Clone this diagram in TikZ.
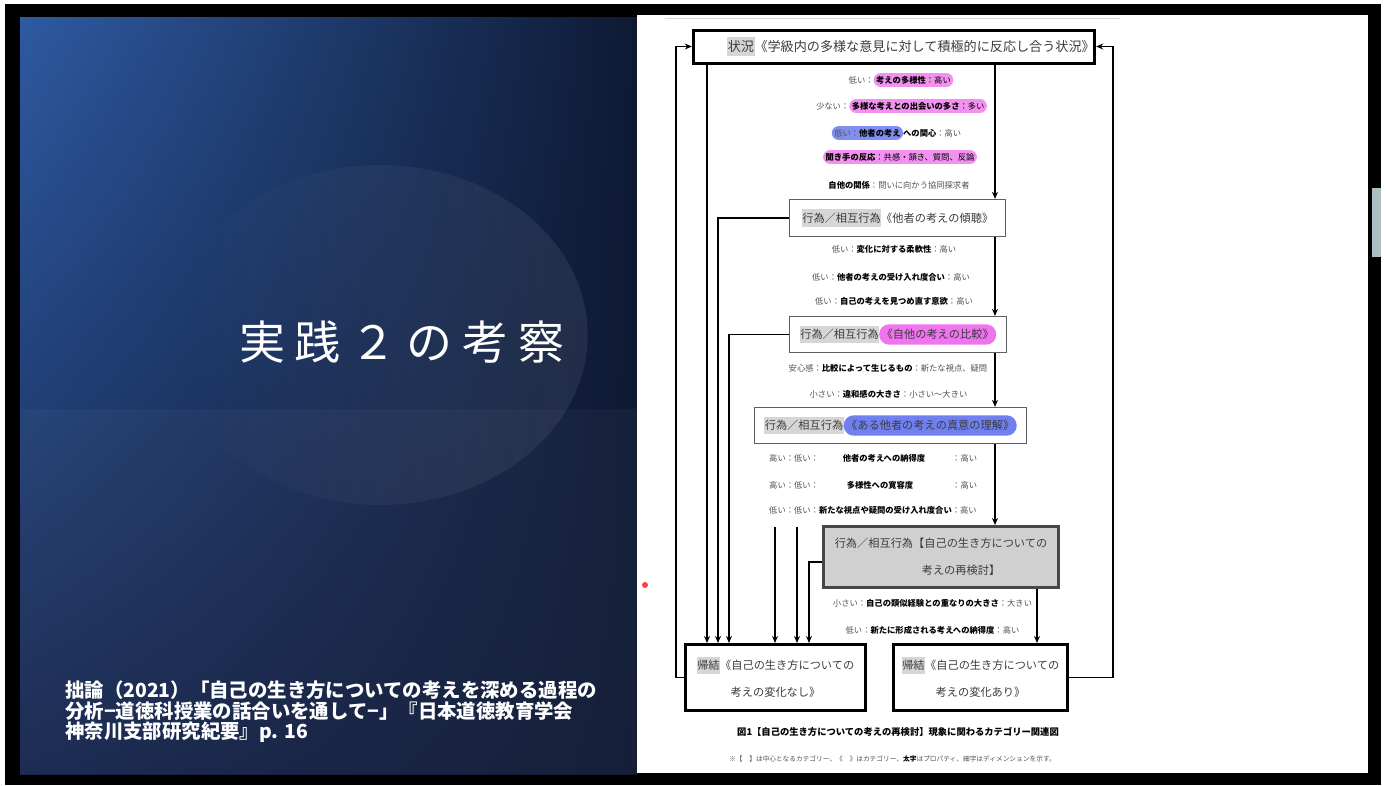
\documentclass[tikz,border=0pt]{standalone}
\usepackage{fontspec}
\setmainfont{Noto Sans CJK JP}
\usetikzlibrary{arrows.meta,shadings,fadings}
\definecolor{pinkhl}{RGB}{243,145,240}
\definecolor{bluehl}{RGB}{128,142,240}
\definecolor{maghl}{RGB}{240,115,240}
\definecolor{bluehltwo}{RGB}{112,128,240}
\definecolor{grayhl}{RGB}{214,214,214}
\definecolor{dimtext}{RGB}{80,80,80}
\definecolor{boxtext}{RGB}{60,60,60}
\definecolor{cboxfill}{RGB}{208,208,208}
\definecolor{slideTL}{RGB}{46,90,162}
\definecolor{slideTR}{RGB}{14,26,52}
\definecolor{slideBL}{RGB}{22,38,78}
\definecolor{slideBR}{RGB}{14,24,50}
\definecolor{sidebit}{RGB}{170,190,195}
\tikzset{plain/.style={draw=none,minimum width=0pt,minimum height=0pt,line width=0.4pt,outer sep=0pt,align=left}}
\newcommand\pill[4]{\tikz[baseline=(pillnd.base)]\node[plain,fill=#3,rounded corners=#2,inner xsep=2.5pt,inner ysep=#1](pillnd){#4};}
\newcommand\ghl[1]{\tikz[baseline=(ghlnd.base)]\node[plain,fill=grayhl,inner xsep=0.5pt,inner ysep=3.5pt](ghlnd){#1};}
\newcommand\pr[1]{{\bfseries\color{black}#1}}
\begin{document}
\begin{tikzpicture}[x=1pt,y=-1pt,
 arr/.style={line width=1.6pt,-{Stealth[length=7pt,width=6pt]}},
 thickbox/.style={draw=black,line width=3pt,fill=white,inner sep=0pt,text=boxtext,font=\fontsize{11.2}{27}\selectfont,align=center},
 thinbox/.style={draw=gray!75!black,line width=1.2pt,fill=white,inner sep=0pt,text=boxtext,font=\fontsize{11.2}{14}\selectfont},
 cbox/.style={draw=gray!55!black,line width=3pt,fill=cboxfill,inner sep=0pt,text=boxtext,font=\fontsize{11.2}{27}\selectfont,align=center},
 dim/.style={inner sep=0pt,text=dimtext,font=\fontsize{8.3}{10}\selectfont},
]
\useasboundingbox (0,0) rectangle (1386,785);
\fill[white] (0,0) rectangle (1386,785);
\fill[black] (5,4) rectangle (1381,785);
% ---------- left slide ----------
\shade[upper left=slideTL,upper right=slideTR,lower left=slideBL,lower right=slideBR] (20,17) rectangle (637,774);
\fill[white,opacity=0.08,path fading=west] (380,335) ellipse [x radius=208pt, y radius=170pt];
\fill[white,opacity=0.03] (20,409) rectangle (637,774);
\node[text=white,inner sep=0pt,font=\fontsize{46}{50}\selectfont] (title) at (402,342)
 {実\kern10pt 践\kern10pt ２\kern10pt の\kern10pt 考\kern10pt 察};
\node[text=white,inner sep=0pt,anchor=west,align=left,font=\fontsize{19.4}{20.5}\selectfont\bfseries] (cite) at (65,712)
 {拙論（2021）「自己の生き方についての考えを深める過程の\\分析−道徳科授業の話合いを通して−」『日本道徳教育学会\\神奈川支部研究紀要』p. 16};
% ---------- right panel ----------
\fill[white] (637,15) rectangle (1368,773);
\fill[sidebit] (1372,188) rectangle (1381,257);
\draw[gray!30,line width=0.8pt] (665,18) -- (1120,18);
\fill[red,opacity=0.75] (645,585) circle[radius=3pt];
% boxes
\node[thickbox,minimum width=395pt,minimum height=33pt,font=\fontsize{13.1}{16}\selectfont] (sit) at (894,46.5)
 {\hspace*{34pt}\ghl{状況}《学級内の多様な意見に対して積極的に反応し合う状況》};
\node[thinbox,minimum width=216pt,minimum height=37pt] (box2) at (897.5,218)
 {\ghl{行為／相互行為}《他者の考えの傾聴》};
\node[thinbox,minimum width=217pt,minimum height=36pt] (box3) at (898,334.5)
 {\ghl{行為／相互行為}\pill{5pt}{10pt}{maghl}{《自他の考えの比較》}};
\node[thinbox,minimum width=272pt,minimum height=36pt] (box4) at (890.5,425.5)
 {\ghl{行為／相互行為}\pill{5pt}{10pt}{bluehltwo}{《ある他者の考えの真意の理解》}};
\node[cbox,minimum width=235pt,minimum height=61pt] (box5) at (941,557)
 {行為／相互行為【自己の生き方についての\\\hspace*{40pt}考えの再検討】};
\node[thickbox,minimum width=180pt,minimum height=66pt] (out1) at (775.5,677.5)
 {\ghl{帰結}《自己の生き方についての\\考えの変化なし》};
\node[thickbox,minimum width=174pt,minimum height=66pt] (out2) at (980.5,677.5)
 {\ghl{帰結}《自己の生き方についての\\考えの変化あり》};
% texts under top box
\node[dim] (t1) at (901,80) {低い：\pill{3pt}{7pt}{pinkhl}{\pr{考えの多様性}：高い}};
\node[dim] (t2) at (901.5,106) {少ない：\pill{3pt}{7pt}{pinkhl}{\pr{多様な考えとの出会いの多さ}：多い}};
\node[dim] (t3) at (896.5,133) {\pill{3pt}{7pt}{bluehl}{低い：\pr{他者の考え}}\pr{への関心}：高い};
\node[dim] (t4) at (900,157) {\pill{3pt}{7pt}{pinkhl}{\pr{聞き手の反応}：共感・頷き、質問、反論}};
\node[dim] (t5) at (899,185) {\pr{自他の関係}：問いに向かう協同探求者};
% under box2
\node[dim] (u1) at (894,249) {低い：\pr{変化に対する柔軟性}：高い};
\node[dim] (u2) at (891,277) {低い：\pr{他者の考えの受け入れ度合い}：高い};
\node[dim] (u3) at (894,301) {低い：\pr{自己の考えを見つめ直す意欲}：高い};
% under box3
\node[dim] (v1) at (888,368) {安心感：\pr{比較によって生じるもの}：新たな視点、疑問};
\node[dim] (v2) at (888.5,394) {小さい：\pr{違和感の大きさ}：小さい～大きい};
% under box4
\node[dim,anchor=west] (w1a) at (769,458) {高い：低い：};
\node[dim] (w1b) at (884,458) {\pr{他者の考えへの納得度}};
\node[dim,anchor=west] (w1c) at (952,458) {：高い};
\node[dim,anchor=west] (w2a) at (769,485) {高い：低い：};
\node[dim] (w2b) at (880,485) {\pr{多様性への寛容度}};
\node[dim,anchor=west] (w2c) at (952,485) {：高い};
\node[dim,anchor=west] (w3) at (769,510) {低い：低い：\pr{新たな視点や疑問の受け入れ度合い}：高い};
% under box5
\node[dim] (x1) at (932.5,603) {小さい：\pr{自己の類似経験との重なりの大きさ}：大きい};
\node[dim] (x2) at (932.5,630) {低い：\pr{新たに形成される考えへの納得度}：高い};
% caption
\node[inner sep=0pt,font=\fontsize{9.3}{11}\selectfont\bfseries] (cap) at (898,732)
 {図1【自己の生き方についての考えの再検討】現象に関わるカテゴリー関連図};
\node[inner sep=0pt,text=dimtext,font=\fontsize{6.7}{8}\selectfont] (note) at (892.5,759)
 {※【\quad】は中心となるカテゴリー、《\quad》はカテゴリー、\pr{太字}はプロパティ、細字はディメンションを示す。};
% ---------- connectors ----------
\coordinate (spine) at (995,0);
\coordinate (spinetwo) at (1037,0);
\coordinate (da) at (707,0);
\coordinate (db) at (718,0);
\coordinate (dc) at (729,0);
\coordinate (fa) at (775,527);
\coordinate (fb) at (797,527);
\coordinate (dd) at (809,0);
\draw[arr] (sit.south -| spine) -- (box2.north -| spine);
\draw[arr] (box2.south -| spine) -- (box3.north -| spine);
\draw[arr] (box3.south -| spine) -- (box4.north -| spine);
\draw[arr] (box4.south -| spine) -- (box5.north -| spine);
\draw[arr] (box5.south -| spinetwo) -- (out2.north -| spinetwo);
\draw[arr] (sit.south -| da) -- (out1.north -| da);
\draw[arr] (box2.west) -| (out1.north -| db);
\draw[arr] (box3.west) -| (out1.north -| dc);
\draw[arr] (fa) -- (out1.north -| fa);
\draw[arr] (fb) -- (out1.north -| fb);
\draw[arr] ([yshift=-5pt]box5.west) -| (out1.north -| dd);
\draw[arr] (out1.west) -- ++(-8,0) |- (sit.west);
\draw[arr] (out2.east) -- ++(44,0) |- (sit.east);
\end{tikzpicture}
\end{document}
